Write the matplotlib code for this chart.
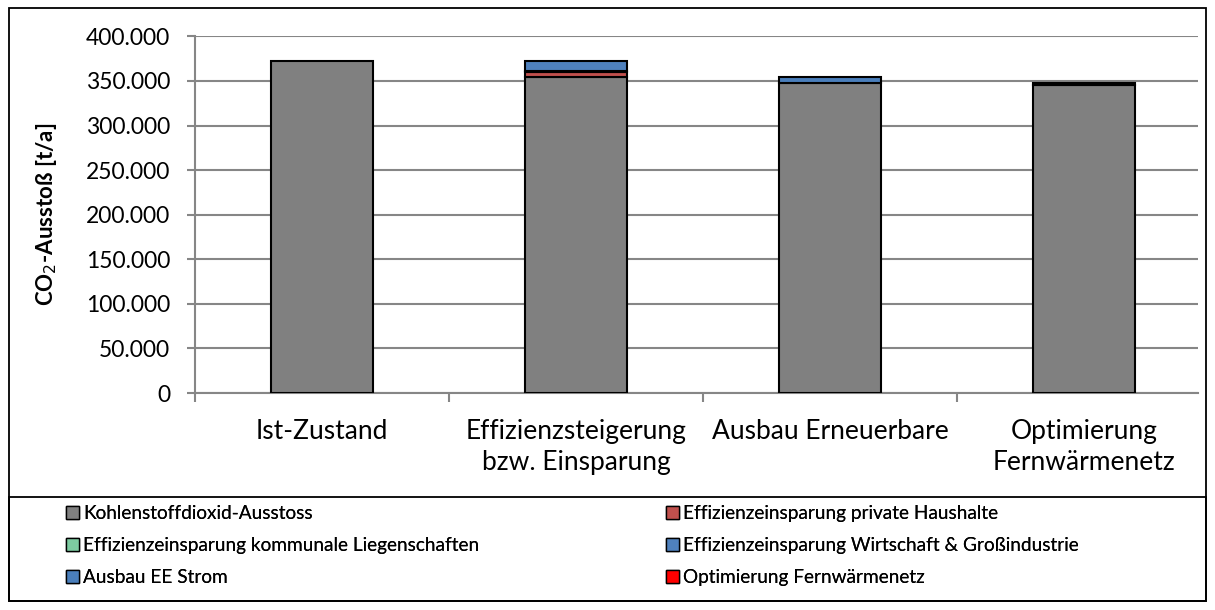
import matplotlib.pyplot as plt
import matplotlib.patches as mpatches
from matplotlib.ticker import FuncFormatter
import numpy as np

plt.rcParams['font.family'] = ['Lato', 'DejaVu Sans']

kategorien = ['Ist-Zustand', 'Effizienzsteigerung\nbzw. Einsparung',
              'Ausbau Erneuerbare', 'Optimierung\nFernwärmenetz']

# Werte in t/a je Szenario
co2_ausstoss = [372000, 355000, 348000, 346000]
eff_haushalte = [0, 5000, 0, 0]
eff_kommunal = [0, 1000, 0, 0]
eff_wirtschaft = [0, 11000, 0, 0]
ausbau_ee = [0, 0, 7000, 0]
opt_fernwaerme = [0, 0, 0, 2000]

reihen = [
    ('Kohlenstoffdioxid-Ausstoss', co2_ausstoss, '#808080'),
    ('Effizienzeinsparung private Haushalte', eff_haushalte, '#C0504D'),
    ('Effizienzeinsparung kommunale Liegenschaften', eff_kommunal, '#7DCBA1'),
    ('Effizienzeinsparung Wirtschaft & Großindustrie', eff_wirtschaft, '#4F81BD'),
    ('Ausbau EE Strom', ausbau_ee, '#4A7EBB'),
    ('Optimierung Fernwärmenetz', opt_fernwaerme, '#FF0000'),
]

W, H = 1215, 610
fig = plt.figure(figsize=(W / 100, H / 100), dpi=100)
ax = fig.add_axes([195 / W, 1 - 393 / H, (1198 - 195) / W, (393 - 36.4) / H])

x = np.arange(len(kategorien))
unten = np.zeros(len(kategorien))
handles = []
for name, werte, farbe in reihen:
    werte = np.array(werte, dtype=float)
    lw = [1.5 if v > 0 else 0 for v in werte]
    ax.bar(x, werte, 0.4, bottom=unten, color=farbe, edgecolor='black',
           linewidth=lw, zorder=3)
    unten += werte
    handles.append(mpatches.Patch(facecolor=farbe, edgecolor='black',
                                  linewidth=1.0, label=name))

ax.set_xticks(x)
ax.set_xticklabels(kategorien, fontsize=19, linespacing=1.3)
ax.set_xticks(np.arange(-0.5, len(kategorien)), minor=True)
# Kategorienbreite 254 px, Achse endet kurz vor dem Rahmen
ax.set_xlim(-0.5, (1198 - 195) / 254 - 0.5)
ax.set_ylim(0, 400000)
ax.set_yticks(np.arange(0, 400001, 50000))
ax.yaxis.set_major_formatter(FuncFormatter(lambda v, p: f'{int(v):,}'.replace(',', '.')))
ax.grid(axis='y', color='#868686', linewidth=1.5, zorder=0)

ax.tick_params(axis='x', which='major', length=0, pad=19)
ax.tick_params(axis='x', which='minor', length=6.5, color='#868686', width=1.5)
ax.tick_params(axis='y', length=6, color='#868686', width=1.5, labelsize=16.5, pad=12)

for s in ['top', 'right']:
    ax.spines[s].set_visible(False)
for s in ['left', 'bottom']:
    ax.spines[s].set_color('#868686')
    ax.spines[s].set_linewidth(1.5)

ax.set_ylabel('CO$_2$-Ausstoß [t/a]', fontsize=16, fontweight='bold')
ax.yaxis.set_label_coords(-(195 - 59) / (1198 - 195), 0.5)

# Legende: zwei Spalten, zeilenweise gefüllt
spalten = [[0, 2, 4], [1, 3, 5]]
for x0, idx in zip([66, 666], spalten):
    leg = fig.legend([handles[i] for i in idx], [handles[i].get_label() for i in idx],
                     loc='upper left', bbox_to_anchor=(x0 / W, 1 - 505 / H),
                     fontsize=13.7, frameon=False, handlelength=0.7, handleheight=0.7,
                     handletextpad=0.2, labelspacing=0.8, borderpad=0,
                     borderaxespad=0)
    fig.add_artist(leg)

# Rahmen um Diagramm und Legende
fig.patches.append(mpatches.Rectangle((9 / W, 1 - 601 / H), (1206 - 9) / W, (601 - 8) / H,
                                      transform=fig.transFigure, fill=False,
                                      edgecolor='black', linewidth=1.3))
fig.patches.append(mpatches.Rectangle((9 / W, 1 - 601 / H), (1206 - 9) / W, (601 - 497) / H,
                                      transform=fig.transFigure, fill=False,
                                      edgecolor='black', linewidth=1.3))

fig.savefig('out.png', dpi=100)
